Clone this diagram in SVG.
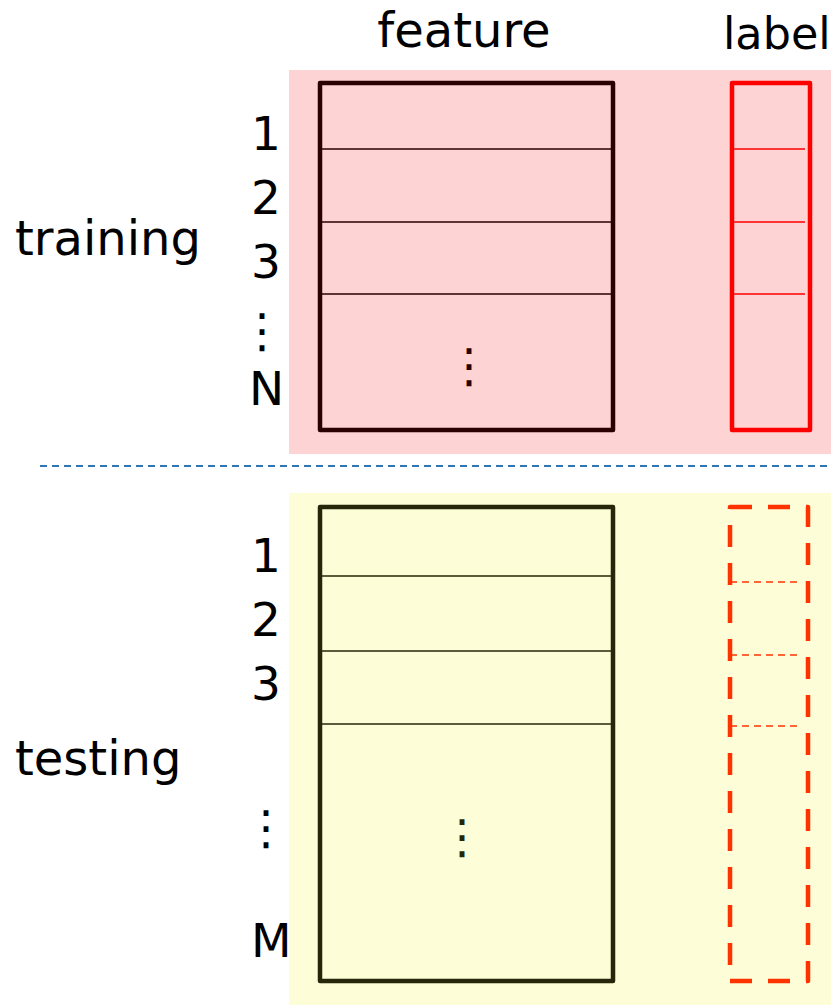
<svg xmlns="http://www.w3.org/2000/svg" width="831" height="1005" viewBox="0 0 831 1005">
  <style>
    text { font-family: "DejaVu Sans", Verdana, sans-serif; fill: #000; }
    .head { font-size: 48px; }
    .side { font-size: 48px; }
    .num { font-size: 47px; }
    .row { stroke-width: 1.6; fill: none; }
    .box { stroke-width: 4.5; fill: none; stroke-linejoin: round; }
  </style>

  <!-- section backgrounds -->
  <rect id="train-bg" x="289" y="70" width="542" height="384" fill="#FDD3D3"/>
  <rect id="test-bg" x="289" y="493" width="542" height="512" fill="#FDFDD7"/>

  <!-- column headers -->
  <text class="head" x="464" y="47" text-anchor="middle">feature</text>
  <text class="head" x="723" y="49" style="font-size:44.5px">label</text>

  <!-- training set -->
  <g id="training">
    <text class="side" x="15" y="255">training</text>
    <text class="num" x="251" y="150">1</text>
    <text class="num" x="251" y="214">2</text>
    <text class="num" x="251" y="278">3</text>
    <text class="num" x="262" y="347" text-anchor="middle">⋮</text>
    <text class="num" x="249" y="405">N</text>
  </g>
  <g id="train-feature">
    <rect class="box" x="320" y="83" width="293" height="347" stroke="#2A0000"/>
    <g class="row" stroke="#2A0000">
      <line x1="320" y1="149" x2="613" y2="149"/>
      <line x1="320" y1="222" x2="613" y2="222"/>
      <line x1="320" y1="294" x2="613" y2="294"/>
    </g>
    <text class="num" x="469" y="382" text-anchor="middle" style="fill:#2A0000">⋮</text>
  </g>
  <g id="train-label">
    <rect class="box" x="732" y="83" width="78" height="347" stroke="#FF0000"/>
    <g class="row" stroke="#FF0000">
      <line x1="732" y1="149" x2="805" y2="149"/>
      <line x1="732" y1="222" x2="805" y2="222"/>
      <line x1="732" y1="294" x2="805" y2="294"/>
    </g>
  </g>

  <!-- split between training and testing -->
  <g id="connectors">
    <line x1="40" y1="466" x2="831" y2="466" stroke="#2E75B6" stroke-width="2" stroke-dasharray="7 5"/>
  </g>

  <!-- testing set -->
  <g id="testing">
    <text class="side" x="15" y="775">testing</text>
    <text class="num" x="251" y="572">1</text>
    <text class="num" x="251" y="636">2</text>
    <text class="num" x="251" y="700">3</text>
    <text class="num" x="266" y="844" text-anchor="middle">⋮</text>
    <text class="num" x="251" y="957">M</text>
  </g>
  <g id="test-feature">
    <rect class="box" x="320" y="507" width="293" height="474" stroke="#26260A"/>
    <g class="row" stroke="#26260A">
      <line x1="320" y1="576" x2="613" y2="576"/>
      <line x1="320" y1="651" x2="613" y2="651"/>
      <line x1="320" y1="724" x2="613" y2="724"/>
    </g>
    <text class="num" x="462" y="853" text-anchor="middle" style="fill:#26260A">⋮</text>
  </g>
  <g id="test-label">
    <rect class="box" x="730" y="507" width="78" height="474" stroke="#FF3300" stroke-dasharray="22 16"/>
    <g class="row" stroke="#FF3300" stroke-dasharray="7 5">
      <line x1="730" y1="582" x2="801" y2="582"/>
      <line x1="730" y1="655" x2="801" y2="655"/>
      <line x1="730" y1="726" x2="801" y2="726"/>
    </g>
  </g>
</svg>
